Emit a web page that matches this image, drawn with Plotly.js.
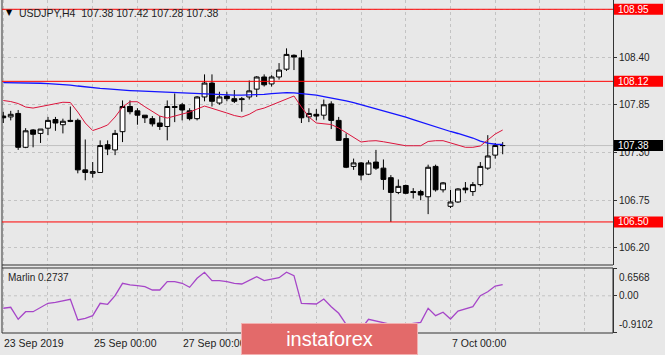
<!DOCTYPE html>
<html><head><meta charset="utf-8">
<script src="https://cdn.plot.ly/plotly-3.0.1.min.js"></script>
<style>html,body{margin:0;padding:0;background:#e8e8e8;}#chart{width:665px;height:355px;}</style>
</head><body><div id="chart"></div>
<script>
// USDJPY H4 bars
const barOpen  = [107.72,107.71,107.75,107.36,107.56,107.52,107.58,107.68,107.62,107.67,107.67,107.10,107.06,107.07,107.39,107.33,107.54,107.83,107.78,107.73,107.69,107.64,107.60,107.83,107.85,107.78,107.69,107.94,108.10,107.87,107.95,107.92,107.92,107.94,108.03,108.17,108.09,108.17,108.26,108.42,108.39,107.71,107.74,107.73,107.86,107.67,107.46,107.14,107.18,107.05,107.19,107.12,107.01,106.84,106.92,106.85,106.85,106.79,107.14,106.87,106.68,106.73,106.89,106.85,106.93,107.12,107.27,107.38];
const barHigh  = [107.77,107.78,107.79,107.58,107.57,107.57,107.71,107.71,107.69,107.83,107.69,107.45,107.19,107.44,107.44,107.56,107.90,107.90,107.81,107.73,107.72,107.72,107.90,107.98,107.87,107.81,107.95,108.20,108.20,108.00,108.00,108.02,107.94,108.13,108.18,108.20,108.19,108.33,108.50,108.43,108.48,107.81,107.80,107.91,107.89,107.71,107.52,107.23,107.19,107.21,107.33,107.22,107.04,106.99,106.93,106.89,106.87,107.16,107.16,106.96,106.87,106.89,106.96,106.96,107.19,107.50,107.41,107.42];
const barLow   = [107.64,107.67,107.33,107.35,107.36,107.41,107.50,107.55,107.52,107.65,107.06,106.98,107.01,107.07,107.27,107.27,107.42,107.74,107.62,107.64,107.60,107.56,107.44,107.65,107.67,107.67,107.67,107.89,107.83,107.85,107.89,107.87,107.77,107.91,107.94,108.06,108.06,108.14,108.24,108.25,107.64,107.65,107.67,107.68,107.57,107.44,107.12,107.10,106.98,107.04,107.10,106.87,106.50,106.82,106.82,106.77,106.75,106.59,106.85,106.84,106.66,106.72,106.83,106.80,106.91,107.10,107.23,107.28];
const barClose = [107.70,107.74,107.36,107.55,107.51,107.57,107.67,107.64,107.66,107.66,107.10,107.07,107.08,107.38,107.34,107.52,107.83,107.77,107.73,107.70,107.63,107.60,107.83,107.82,107.79,107.69,107.94,108.10,107.89,107.94,107.92,107.89,107.91,108.01,108.17,108.08,108.17,108.25,108.43,108.40,107.70,107.75,107.72,107.85,107.67,107.44,107.13,107.18,107.04,107.18,107.12,106.99,106.84,106.91,106.83,106.84,106.81,107.13,106.87,106.95,106.73,106.88,106.87,106.93,107.14,107.26,107.38,107.38];
// slow moving average (blue)
const maBlue = [108.105,108.105,108.105,108.104,108.102,108.098,108.094,108.090,108.085,108.077,108.066,108.055,108.045,108.039,108.032,108.024,108.020,108.014,108.009,108.005,107.999,107.997,107.991,107.985,107.982,107.979,107.977,107.974,107.971,107.968,107.962,107.962,107.962,107.962,107.965,107.970,107.978,107.985,107.989,107.988,107.981,107.971,107.962,107.945,107.930,107.913,107.895,107.876,107.853,107.830,107.807,107.784,107.761,107.738,107.709,107.680,107.651,107.622,107.594,107.565,107.542,107.519,107.496,107.467,107.432,107.409,107.395,107.392];
// fast line (crimson)
const maRed = [107.899,107.887,107.864,107.824,107.812,107.830,107.847,107.864,107.879,107.876,107.766,107.640,107.553,107.582,107.617,107.709,107.824,107.885,107.885,107.827,107.778,107.720,107.697,107.720,107.743,107.766,107.801,107.835,107.809,107.778,107.755,107.726,107.709,107.740,107.789,107.812,107.847,107.882,107.916,107.951,107.824,107.709,107.640,107.628,107.622,107.582,107.530,107.473,107.421,107.432,107.436,107.424,107.409,107.386,107.378,107.378,107.378,107.427,107.436,107.436,107.409,107.380,107.360,107.360,107.375,107.444,107.513,107.559];
// Marlin oscillator
const marlin = [-0.306,-0.282,-0.576,-0.390,-0.390,-0.292,-0.184,-0.159,-0.127,-0.086,-0.593,-0.551,-0.488,-0.184,-0.208,0.002,0.306,0.265,0.248,0.223,0.142,0.142,0.346,0.346,0.306,0.208,0.429,0.576,0.370,0.370,0.346,0.306,0.289,0.387,0.468,0.370,0.412,0.444,0.576,0.493,-0.184,-0.184,-0.201,-0.078,-0.267,-0.429,-0.699,-0.880,-0.814,-0.576,-0.618,-0.650,-0.699,-0.716,-0.716,-0.674,-0.650,-0.306,-0.488,-0.404,-0.569,-0.373,-0.324,-0.267,0.002,0.100,0.240,0.2737];

const priceTicks = [106.20,106.75,107.30,107.85,108.40,108.95];
const levelLines = [108.95,108.12,106.50];
const bidPrice = 107.38;
const marlinMax = 0.6568, marlinMin = -0.9102, marlinLast = 0.2737;
const gridIdx = [0,6,12,18,24,30,36,42,48,54,60,66,72,78];
const dateTickIdx = [0,12,24,60];
const dateTickText = ['23 Sep 2019','25 Sep 00:00','27 Sep 00:00','7 Oct 00:00'];
const titleText = 'USDJPY,H4\u00a0\u00a0107.38 107.42 107.28 107.38';

const idx = barOpen.map((_, i) => i);
const FONT = 'Tahoma, "Liberation Sans", Arial, sans-serif';
const GRID = '#c3c3c3';
const INK = '#1e1e1e';
const MAIN_DOM = [0.2042, 1];
const IND_DOM = [0, 0.1952];

const traces = [
  {type:'candlestick', x: idx, open: barOpen, high: barHigh, low: barLow, close: barClose,
   xaxis:'x', yaxis:'y', whiskerwidth: 0, hoverinfo:'skip',
   increasing:{line:{color:'#000000', width:1}, fillcolor:'#ffffff'},
   decreasing:{line:{color:'#000000', width:1}, fillcolor:'#000000'}},
  {type:'scatter', mode:'lines', x: idx, y: maBlue, xaxis:'x', yaxis:'y',
   line:{color:'#1414ff', width:1.3}, hoverinfo:'skip'},
  {type:'scatter', mode:'lines', x: idx, y: maRed, xaxis:'x', yaxis:'y',
   line:{color:'#dc143c', width:1}, hoverinfo:'skip'},
  {type:'scatter', mode:'lines', x: idx, y: marlin, xaxis:'x', yaxis:'y2',
   line:{color:'#a646c8', width:1.3}, hoverinfo:'skip'}
];

const shapes = [];
// panel borders
shapes.push({type:'line', xref:'paper', yref:'paper', x0:0, x1:0, y0:0, y1:1, line:{color:'#333', width:1}});
shapes.push({type:'line', xref:'paper', yref:'paper', x0:0, x1:1, y0:MAIN_DOM[0], y1:MAIN_DOM[0], line:{color:'#333', width:1}});
shapes.push({type:'line', xref:'paper', yref:'paper', x0:0, x1:1, y0:IND_DOM[1], y1:IND_DOM[1], line:{color:'#333', width:1}});
shapes.push({type:'line', xref:'paper', yref:'paper', x0:0, x1:1, y0:0, y1:0, line:{color:'#333', width:1}});
shapes.push({type:'line', xref:'paper', yref:'paper', x0:1, x1:1, y0:0, y1:IND_DOM[1], line:{color:'#333', width:1}});
// bid line
shapes.push({type:'line', xref:'paper', yref:'y', x0:0, x1:1, y0:bidPrice, y1:bidPrice, layer:'below', line:{color:'#c0c0c0', width:1}});
// zero level of indicator
shapes.push({type:'line', xref:'paper', yref:'y2', x0:0, x1:1, y0:0, y1:0, layer:'below', line:{color:GRID, width:1, dash:'3px,3px'}});
// horizontal level lines
levelLines.forEach(v => shapes.push({type:'line', xref:'paper', yref:'y', x0:0, x1:1, y0:v, y1:v, line:{color:'#ff0000', width:1}}));

const annotations = [];
// price label boxes
function priceBox(v, fill) {
  shapes.push({type:'rect', xref:'paper', xsizemode:'pixel', xanchor:1, x0:1, x1:50,
    yref:'y', ysizemode:'pixel', yanchor:v, y0:-5.5, y1:5.5, fillcolor:fill, line:{width:0}, layer:'above'});
  annotations.push({xref:'paper', x:1, xanchor:'left', xshift:4, yref:'y', y:v, yanchor:'middle',
    text:v.toFixed(2), showarrow:false, font:{family:FONT, size:10, color:'#ffffff'}, borderpad:0});
}
levelLines.forEach(v => priceBox(v, '#ff0000'));
priceBox(bidPrice, '#000000');

// indicator scale labels
annotations.push({xref:'paper', x:1, xanchor:'left', xshift:4, yref:'y2', y:marlinMax, yanchor:'middle', yshift:-9,
  text:marlinMax.toFixed(4), showarrow:false, font:{family:FONT, size:10, color:INK}});
annotations.push({xref:'paper', x:1, xanchor:'left', xshift:4, yref:'y2', y:marlinMin, yanchor:'middle', yshift:8,
  text:marlinMin.toFixed(4), showarrow:false, font:{family:FONT, size:10, color:INK}});

// title
annotations.push({xref:'paper', x:0, xanchor:'left', xshift:2, yref:'paper', y:1, yanchor:'middle', yshift:-12,
  text:'\u25BC', showarrow:false, font:{family:'DejaVu Sans', size:8, color:'#000'}});
annotations.push({xref:'paper', x:0, xanchor:'left', xshift:15, yref:'paper', y:1, yanchor:'middle', yshift:-12.5,
  text:titleText, showarrow:false, font:{family:FONT, size:10.5, color:INK}});
// indicator name
annotations.push({xref:'paper', x:0, xanchor:'left', xshift:4, yref:'paper', y:IND_DOM[1], yanchor:'middle', yshift:-10,
  text:'Marlin ' + marlinLast.toFixed(4), showarrow:false, font:{family:FONT, size:10, color:INK}});

// date labels
dateTickIdx.forEach((b, k) => annotations.push({xref:'x', x:b, xanchor:'left', xshift:-1, yref:'paper', y:0, yanchor:'middle', yshift:-10,
  text:dateTickText[k], showarrow:false, font:{family:FONT, size:10.5, color:INK}}));

// logo
annotations.push({xref:'paper', x:0.5368, xanchor:'center', yref:'paper', y:-0.018, yanchor:'middle',
  text:'instaforex', showarrow:false, width:175, height:30, bgcolor:'#e36a6a', bordercolor:'#f2b0b0', borderwidth:1, borderpad:0,
  font:{family:'"Liberation Sans", Arial, sans-serif', size:20, color:'#ffffff'}});

const layout = {
  width:665, height:355,
  margin:{l:2, r:52, t:0, b:22, pad:0},
  paper_bgcolor:'#e8e8e8', plot_bgcolor:'#e8e8e8',
  showlegend:false,
  font:{family:FONT, size:10, color:INK},
  boxgap:0.35, boxgroupgap:0,
  xaxis:{range:[-0.17, 81.8], tickvals:gridIdx, showticklabels:false, ticks:'',
    showgrid:true, gridcolor:GRID, griddash:'3px,3px', gridwidth:1, zeroline:false, showline:false,
    rangeslider:{visible:false}, fixedrange:true, anchor:'y2'},
  yaxis:{domain:MAIN_DOM, range:[106.004, 109.057], side:'right', tickvals:priceTicks,
    ticktext:priceTicks.map(v => v.toFixed(2)), ticks:'outside', ticklen:3, tickcolor:'#333',
    showgrid:true, gridcolor:GRID, griddash:'3px,3px', zeroline:false,
    showline:true, linecolor:'#333', linewidth:1, tickfont:{family:FONT, size:10, color:INK}, fixedrange:true},
  yaxis2:{domain:IND_DOM, range:[-0.912, 0.681], side:'right', tickvals:[marlinMax, 0, marlinMin],
    ticktext:['', '0.00', ''], ticks:'outside', ticklen:3, tickcolor:'#333',
    showgrid:false, zeroline:false, showline:true, linecolor:'#333', linewidth:1,
    tickfont:{family:FONT, size:10, color:INK}, fixedrange:true, anchor:'x'},
  shapes:shapes,
  annotations:annotations
};

Plotly.newPlot('chart', traces, layout, {staticPlot:true, displayModeBar:false});
</script>
</body></html>
